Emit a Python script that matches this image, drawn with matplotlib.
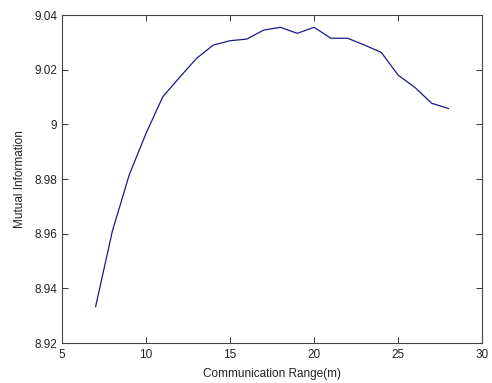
import matplotlib
matplotlib.use("Agg")
import matplotlib.pyplot as plt

plt.rcParams['font.family'] = ['Liberation Sans', 'DejaVu Sans']

comm_range = [7, 8, 9, 10, 11, 12, 13, 14, 15, 16, 17, 18, 19, 20,
              21, 22, 23, 24, 25, 26, 27, 28]
mutual_info = [8.9333, 8.9610, 8.9815, 8.9967, 9.0101, 9.0172, 9.0241,
               9.0290, 9.0306, 9.0312, 9.0345, 9.0355, 9.0333, 9.0355,
               9.0315, 9.0315, 9.0290, 9.0263, 9.0180, 9.0135, 9.0077,
               9.0058]
x_ticks = [5, 10, 15, 20, 25, 30]
y_ticks = [8.92, 8.94, 8.96, 8.98, 9.00, 9.02, 9.04]
y_tick_labels = ['8.92', '8.94', '8.96', '8.98', '9', '9.02', '9.04']

fig = plt.figure(figsize=(4.92, 3.83), dpi=100)
ax = fig.add_axes([0.126, 0.1044, 0.854, 0.8564])
ax.plot(comm_range, mutual_info, color='#1a1a8c', linewidth=0.9)

ax.set_xlim(5, 30)
ax.set_ylim(8.92, 9.04)
ax.set_xticks(x_ticks)
ax.set_yticks(y_ticks)
ax.set_yticklabels(y_tick_labels)
ax.tick_params(direction='in', length=4, width=0.7, labelsize=8.5,
               top=True, right=True, colors='#333333', labelcolor='#222222')
ax.tick_params(axis='x', pad=4.5)
ax.tick_params(axis='y', pad=3.5)
for s in ax.spines.values():
    s.set_linewidth(0.8)
    s.set_color('#444444')
ax.set_xlabel('Communication Range(m)', fontsize=8.5, color='#222222', labelpad=5)
ax.set_ylabel('Mutual Information', fontsize=8.5, color='#222222', labelpad=6)

fig.savefig('out.png', dpi=100)
